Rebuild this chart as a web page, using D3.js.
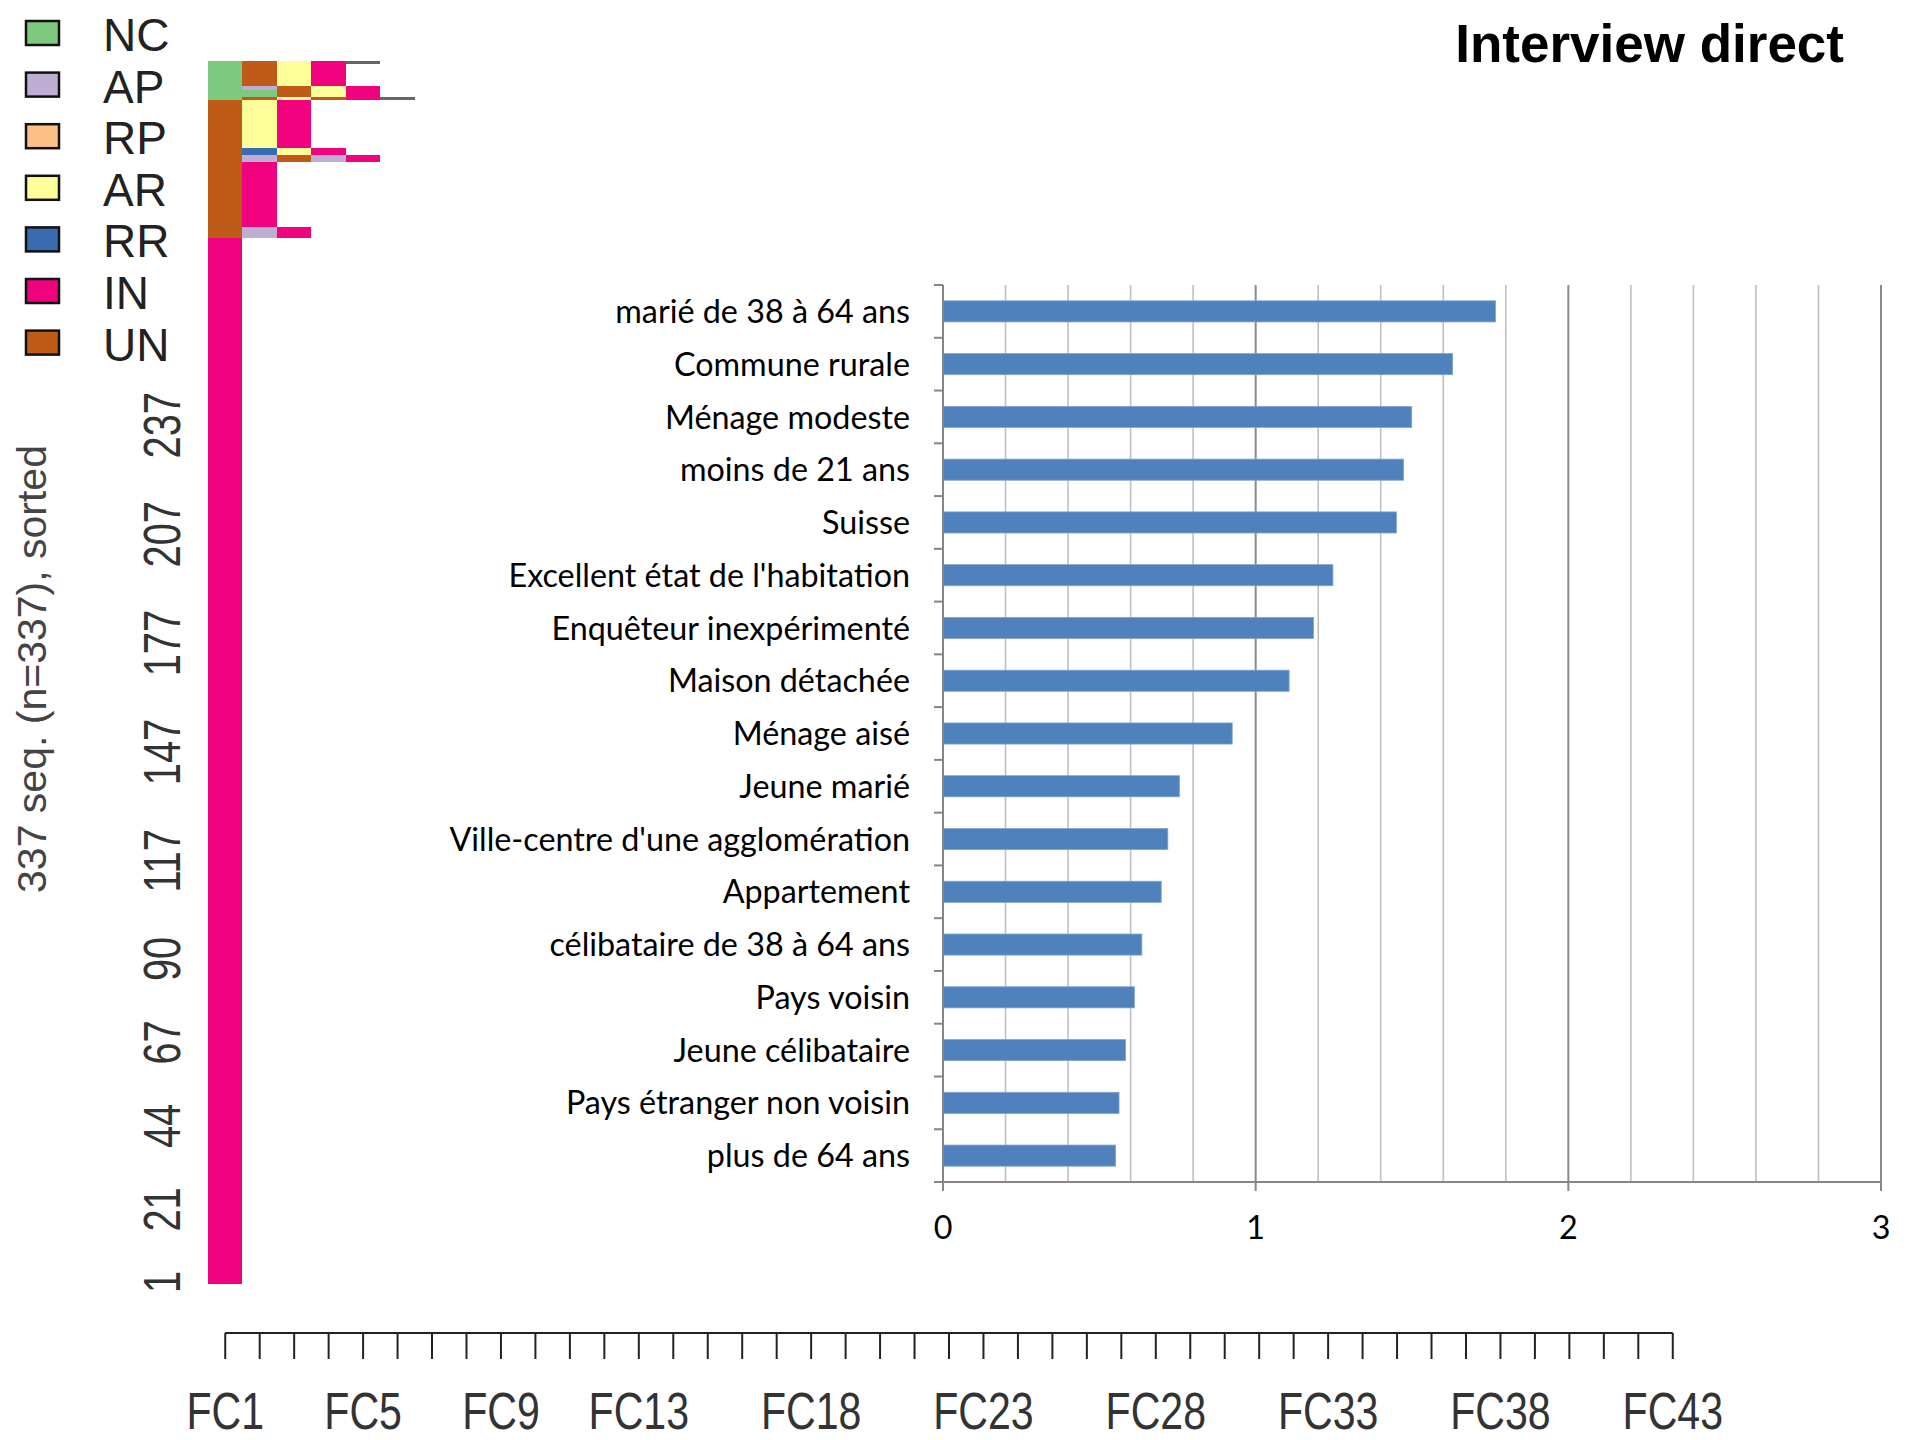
<!DOCTYPE html>
<html><head><meta charset="utf-8">
<script src="https://cdn.jsdelivr.net/npm/d3@7"></script>
<style>body{margin:0;background:#fff}</style>
</head><body><svg id="chart" width="1920" height="1440"></svg>
<script>
// ---------- data ----------
const title = "Interview direct";
const categories = [
  "marié de 38 à 64 ans", "Commune rurale", "Ménage modeste", "moins de 21 ans",
  "Suisse", "Excellent état de l'habitation", "Enquêteur inexpérimenté",
  "Maison détachée", "Ménage aisé", "Jeune marié", "Ville-centre d'une agglomération",
  "Appartement", "célibataire de 38 à 64 ans", "Pays voisin", "Jeune célibataire",
  "Pays étranger non voisin", "plus de 64 ans"
];
const values = [1.767, 1.630, 1.499, 1.473, 1.450, 1.247, 1.185, 1.107, 0.925,
  0.756, 0.719, 0.698, 0.636, 0.612, 0.584, 0.563, 0.552];
const valueTicks = [0, 1, 2, 3];

const states = ["NC", "AP", "RP", "AR", "RR", "IN", "UN"];
const stateColors = ["#7FC97F", "#BEAED4", "#FDC086", "#FFFF99", "#386CB0", "#F0027F", "#BF5B17"];
const missingColor = "#666666";
const positionLabels = ["FC1","FC2","FC3","FC4","FC5","FC6","FC7","FC8","FC9","FC10",
  "FC11","FC12","FC13","FC14","FC15","FC16","FC17","FC18","FC19","FC20","FC21","FC22",
  "FC23","FC24","FC25","FC26","FC27","FC28","FC29","FC30","FC31","FC32","FC33","FC34",
  "FC35","FC36","FC37","FC38","FC39","FC40","FC41","FC42","FC43"];
const shownPositionLabels = ["FC1","FC5","FC9","FC13","FC18","FC23","FC28","FC33","FC38","FC43"];
const seqTickLabels = [1, 21, 44, 67, 90, 117, 147, 177, 207, 237];
const nSequences = 337;
const seqAxisTitle = "337 seq. (n=337), sorted";
// sequence groups, listed from the top of the plot downwards
const seqGroupCounts = [1, 6, 1, 2, 1, 13, 2, 2, 18, 3, 288];
const seqGroupStates = [
  ["NC","UN","AR","IN","*"],
  ["NC","UN","AR","IN"],
  ["NC","AP","UN","AR","IN"],
  ["NC","NC","UN","AR","IN"],
  ["NC","UN","AR","UN","IN","*"],
  ["UN","AR","IN"],
  ["UN","RR","AR","IN"],
  ["UN","AP","UN","AP","IN"],
  ["UN","IN"],
  ["UN","AP","IN"],
  ["IN"]
];

// ---------- drawing ----------
const svg = d3.select("#chart");
svg.append("rect").attr("width", 1920).attr("height", 1440).attr("fill", "#fff");
const color = d3.scaleOrdinal().domain(states.concat(["*"])).range(stateColors.concat([missingColor]));

// ---- sequence index plot ----
const xSeq = d3.scaleBand().domain(positionLabels).range([208, 1690]);
const ySeq = d3.scaleLinear().domain([0, nSequences]).range([1283.8, 60.5]);

const cells = [];
let fromTop = 0;
seqGroupCounts.forEach((c, gi) => {
  const top = nSequences - fromTop;
  const bottom = top - c;
  seqGroupStates[gi].forEach((s, pi) => {
    cells.push({pos: positionLabels[pi], state: s, top, bottom});
  });
  fromTop += c;
});
svg.append("g").selectAll("rect").data(cells).join("rect")
  .attr("x", d => xSeq(d.pos))
  .attr("width", xSeq.bandwidth())
  .attr("y", d => ySeq(d.top))
  .attr("height", d => ySeq(d.bottom) - ySeq(d.top))
  .attr("fill", d => color(d.state))
  .attr("shape-rendering", "crispEdges");

// sequence y tick labels (rotated, condensed)
svg.append("g").selectAll("text").data(seqTickLabels).join("text")
  .attr("transform", d => `translate(180,${ySeq(d - 0.5)}) rotate(-90) scale(0.78,1)`)
  .attr("text-anchor", "middle")
  .attr("font-family", "Liberation Sans, Arial, sans-serif")
  .attr("font-size", 51)
  .attr("fill", "#333")
  .text(d => d);

svg.append("text")
  .attr("transform", `translate(46,669) rotate(-90)`)
  .attr("text-anchor", "middle")
  .attr("font-family", "Liberation Sans, Arial, sans-serif")
  .attr("font-size", 41)
  .attr("fill", "#444")
  .text(seqAxisTitle);

// bottom position axis
const gx = svg.append("g").attr("transform", "translate(0,1333)")
  .call(d3.axisBottom(xSeq).tickValues(positionLabels).tickSize(26)
    .tickFormat(d => shownPositionLabels.includes(d) ? d : ""));
gx.select(".domain").remove();
gx.selectAll(".tick line").attr("stroke", "#222").attr("stroke-width", 2);
gx.append("line")
  .attr("x1", xSeq(positionLabels[0]) + xSeq.bandwidth() / 2)
  .attr("x2", xSeq(positionLabels[positionLabels.length - 1]) + xSeq.bandwidth() / 2)
  .attr("stroke", "#222").attr("stroke-width", 2);
gx.selectAll(".tick text")
  .attr("y", 96).attr("dy", 0)
  .attr("transform", "scale(0.79,1)")
  .attr("font-family", "Liberation Sans, Arial, sans-serif")
  .attr("font-size", 52)
  .attr("fill", "#333");

// legend
const legend = svg.append("g").selectAll("g").data(states).join("g")
  .attr("transform", (d, i) => `translate(0,${33 + i * 51.6})`);
legend.append("rect")
  .attr("x", 26).attr("y", -12).attr("width", 33).attr("height", 24)
  .attr("fill", d => color(d)).attr("stroke", "#111").attr("stroke-width", 2.5);
legend.append("text")
  .attr("x", 103).attr("y", 18)
  .attr("font-family", "Liberation Sans, Arial, sans-serif")
  .attr("font-size", 46)
  .attr("fill", "#222")
  .text(d => d);

// ---- bar chart ----
const xVal = d3.scaleLinear().domain([0, 3]).range([943, 1881]);
const yCat = d3.scaleBand().domain(categories).range([285, 1182]);
const gridVals = d3.range(1, 16).map(i => i * 0.2);

svg.append("g").selectAll("line").data(gridVals).join("line")
  .attr("x1", d => xVal(d)).attr("x2", d => xVal(d))
  .attr("y1", 285).attr("y2", 1182)
  .attr("stroke", d => Math.abs(d - Math.round(d)) < 1e-6 ? "#8a8a8a" : "#c0c0c0")
  .attr("stroke-width", d => Math.abs(d - Math.round(d)) < 1e-6 ? 2 : 1.6);

const barH = yCat.bandwidth() * 0.4;
svg.append("g").selectAll("rect").data(values).join("rect")
  .attr("x", xVal(0))
  .attr("y", (d, i) => yCat(categories[i]) + (yCat.bandwidth() - barH) / 2)
  .attr("width", d => xVal(d) - xVal(0))
  .attr("height", barH)
  .attr("fill", "#4F81BD")
  .attr("stroke", "#7FA3D0").attr("stroke-width", 0.8);

// category axis
const gy = svg.append("g").attr("transform", `translate(${xVal(0)},0)`);
gy.append("line").attr("y1", 285).attr("y2", 1182).attr("stroke", "#868686").attr("stroke-width", 2);
const boundaries = categories.map(c => yCat(c)).concat([1182]);
gy.selectAll("line.t").data(boundaries).join("line").attr("class", "t")
  .attr("x1", -9).attr("x2", 0).attr("y1", d => d).attr("y2", d => d)
  .attr("stroke", "#868686").attr("stroke-width", 2);
svg.append("g").selectAll("text").data(categories).join("text")
  .attr("x", 910)
  .attr("y", d => yCat(d) + yCat.bandwidth() / 2)
  .attr("dy", "0.36em")
  .attr("text-anchor", "end")
  .attr("font-family", "Lato, 'Open Sans', sans-serif")
  .attr("font-size", 32.3)
  .attr("fill", "#000")
  .text(d => d);

// value axis
const gv = svg.append("g").attr("transform", "translate(0,1182)");
gv.append("line").attr("x1", xVal(0) - 9).attr("x2", xVal(3)).attr("stroke", "#868686").attr("stroke-width", 2);
gv.selectAll("line.t").data(valueTicks).join("line").attr("class", "t")
  .attr("x1", d => xVal(d)).attr("x2", d => xVal(d)).attr("y1", 0).attr("y2", 9)
  .attr("stroke", "#868686").attr("stroke-width", 2);
gv.selectAll("text").data(valueTicks).join("text")
  .attr("x", d => xVal(d)).attr("y", 57)
  .attr("text-anchor", "middle")
  .attr("font-family", "Lato, 'Open Sans', sans-serif")
  .attr("font-size", 32.3)
  .attr("fill", "#000")
  .text(d => d);

// title
svg.append("text")
  .attr("x", 1844).attr("y", 62)
  .attr("text-anchor", "end")
  .attr("font-family", "Liberation Sans, Arial, sans-serif")
  .attr("font-weight", "bold")
  .attr("font-size", 53)
  .attr("fill", "#000")
  .text(title);
</script></body></html>
